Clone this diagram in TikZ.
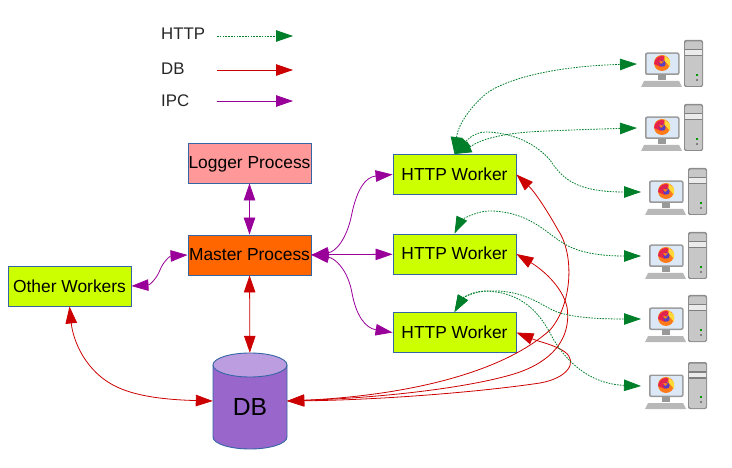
\documentclass[tikz,border=0pt]{standalone}
\usepackage{fontspec}
\setmainfont{Liberation Sans}
\usetikzlibrary{arrows.meta}

\definecolor{boxlime}{HTML}{CCFF00}
\definecolor{boxline}{HTML}{3465A4}
\definecolor{masterorange}{HTML}{FF6600}
\definecolor{loggerpink}{HTML}{FF9999}
\definecolor{dbbody}{HTML}{9966CC}
\definecolor{dbtop}{HTML}{BC9EE0}
\definecolor{httpgreen}{HTML}{007F2A}
\definecolor{dbred}{HTML}{CC0000}
\definecolor{ipcpurple}{HTML}{990099}
\definecolor{foxorange}{HTML}{FF7A18}
\definecolor{foxyellow}{HTML}{FFD83A}
\definecolor{foxpink}{HTML}{E3224E}
\definecolor{foxviolet}{HTML}{5A3FC0}
\definecolor{screenblue}{HTML}{DCE8F6}

\tikzset{
  bigtip/.tip={Triangle[length=17pt,width=11.5pt]},
  procbox/.style={draw=boxline,line width=0.9pt,minimum width=123pt,minimum height=40pt,inner sep=0pt,text height=12pt,text depth=0pt,font=\fontsize{17.4}{20}\selectfont},
  legendtext/.style={anchor=west,inner sep=0pt,text=black!85,font=\fontsize{16.8}{20}\selectfont},
  httpline/.style={httpgreen,line width=0.8pt,dash pattern=on 1.6pt off 1.2pt},
  dbline/.style={dbred,line width=0.8pt},
  ipcline/.style={ipcpurple,line width=0.8pt},
  client/.pic={
    \coordinate (-port) at (-25,0);
    % tower
    \fill[rounded corners=2pt,black!45] (22,-24) rectangle (41,23);
    \fill[rounded corners=1.5pt,black!22] (23,-22.5) rectangle (40,22);
    \fill[black!50] (23,-15) rectangle (40,-13.5);
    \fill[black!50] (23,-9) rectangle (40,-7.5);
    \fill[black!8] (23,-13.5) rectangle (40,-9);
    \fill[green!60!black] (34,10) rectangle (36,12);
    \fill[black!50] (34,15) rectangle (36,17);
    % keyboard
    \fill[black!28] (-18,17) -- (17,17) -- (20,23) -- (-21,23) -- cycle;
    \fill[black!40] (-4,11) rectangle (4,16);
    % monitor
    \fill[rounded corners=2pt,black!40] (-17,-11.5) rectangle (17.5,11);
    \fill[rounded corners=1pt,screenblue] (-15.5,-10) rectangle (16,9.5);
    % browser
    \fill[foxorange] (0,-1) circle (8);
    \fill[foxyellow] (2,-9) -- (8,-4) -- (8,3) -- (3,-3) -- cycle;
    \fill[foxpink] (-8,0) arc (180:290:8) -- (-1,3) -- cycle;
    \fill[foxviolet] (0.5,-0.5) circle (3.2);
    \fill[foxorange] (-3,-3) -- (2,-2.5) -- (-1,0) -- cycle;
  },
}

\begin{document}
\begin{tikzpicture}[x=1pt,y=-1pt]
\useasboundingbox (0,0) rectangle (732,468);

% legend
\node[legendtext] (labhttp) at (161,34) {HTTP};
\node[legendtext] (labdb) at (161,69) {DB};
\node[legendtext] (labipc) at (161,101) {IPC};
\coordinate (http0) at (217,36);
\coordinate (http9) at (293,36);
\coordinate (db0) at (217,70);
\coordinate (db9) at (293,70);
\coordinate (ipc0) at (217,101);
\coordinate (ipc9) at (293,101);
\draw[httpline,-bigtip] (http0) -- (http9);
\draw[dbline,-bigtip] (db0) -- (db9);
\draw[ipcline,-bigtip] (ipc0) -- (ipc9);

% processes
\node[procbox,fill=loggerpink] (logger) at (249.5,163) {Logger Process};
\node[procbox,fill=masterorange] (master) at (249.5,255) {Master Process};
\node[procbox,fill=boxlime] (other) at (69.5,286) {Other Workers};
\node[procbox,fill=boxlime] (http1) at (454.5,174.5) {HTTP Worker};
\node[procbox,fill=boxlime] (http2) at (454.5,254) {HTTP Worker};
\node[procbox,fill=boxlime] (http3) at (454.5,332.5) {HTTP Worker};

% db
\draw[draw=boxline,line width=0.9pt,fill=dbbody] (213,365) -- (213,437) arc (180:0:37 and 12) -- (287,365) -- cycle;
\draw[draw=boxline,line width=0.9pt,fill=dbtop] (250,365) ellipse (37 and 12);
\node[minimum width=74pt,minimum height=96pt,inner sep=0pt,font=\fontsize{24.7}{28}\selectfont] (db) at (250,401) {\raisebox{-14pt}[0pt][0pt]{DB}};

% clients
\pic (c1) at (662,64) {client};
\pic (c2) at (662,128) {client};
\pic (c3) at (666,192) {client};
\pic (c4) at (666,256) {client};
\pic (c5) at (666,319) {client};
\pic (c6) at (666,386) {client};

% ipc
\draw[ipcline,bigtip-bigtip] (logger) -- (master);
\draw[ipcline,bigtip-bigtip] (master) -- (http2);
\draw[ipcline,bigtip-bigtip] (other.east) .. controls (150,285) and (157,278) .. (160,270) .. controls (163,262) and (170,256) .. (master.west);
\draw[ipcline,bigtip-bigtip] (master.east) .. controls (335,252) and (347,240) .. (352,213) .. controls (357,190) and (365,177) .. (http1.west);
\draw[ipcline,bigtip-bigtip] (master.east) .. controls (335,258) and (348,270) .. (352,293) .. controls (356,315) and (365,328) .. (http3.west);

% db
\draw[dbline,bigtip-bigtip] (master) -- (db);
\draw[dbline,bigtip-bigtip] (other.south) .. controls (73,340) and (85,372) .. (117,387) .. controls (140,398) and (175,400) .. (db.west);
\draw[dbline,bigtip-bigtip] (db.east) .. controls (400,396) and (500,375) .. (550,330) .. controls (572,305) and (575,255) .. (558,230) .. controls (548,212) and (535,192) .. (http1.east);
\draw[dbline,bigtip-bigtip] (db.east) .. controls (400,397) and (480,385) .. (517,373) .. controls (550,362) and (572,340) .. (567,307) .. controls (562,285) and (540,268) .. (http2.east);
\draw[dbline,bigtip-bigtip] (db.east) .. controls (380,400) and (480,392) .. (540,383) .. controls (568,378) and (578,362) .. (565,352) .. controls (555,345) and (540,342) .. (http3.east);

% http
\draw[httpline,bigtip-bigtip] (http1.north) .. controls (458,125) and (470,107) .. (487,93) .. controls (510,77) and (560,66) .. (c1-port);
\draw[httpline,bigtip-bigtip] (http1.north) .. controls (472,146) and (485,133) .. (547,131) .. controls (570,130) and (600,129) .. (c2-port);
\draw[httpline,bigtip-bigtip] (http1.north) .. controls (462,146) and (472,131) .. (487,132) .. controls (515,133) and (537,145) .. (550,160) .. controls (562,178) and (575,192) .. (c3-port);
\draw[httpline,bigtip-bigtip] (http2.north) .. controls (460,222) and (475,210) .. (493,211) .. controls (530,213) and (545,232) .. (563,243) .. controls (580,254) and (605,256) .. (c4-port);
\draw[httpline,bigtip-bigtip] (http3.north) .. controls (462,299) and (472,291) .. (490,291) .. controls (525,290) and (540,305) .. (557,312) .. controls (575,318) and (600,319) .. (c5-port);
\draw[httpline,bigtip-bigtip] (http3.north) .. controls (462,299) and (472,291) .. (485,291) .. controls (515,292) and (535,305) .. (550,333) .. controls (565,362) and (590,384) .. (c6-port);
\end{tikzpicture}
\end{document}
